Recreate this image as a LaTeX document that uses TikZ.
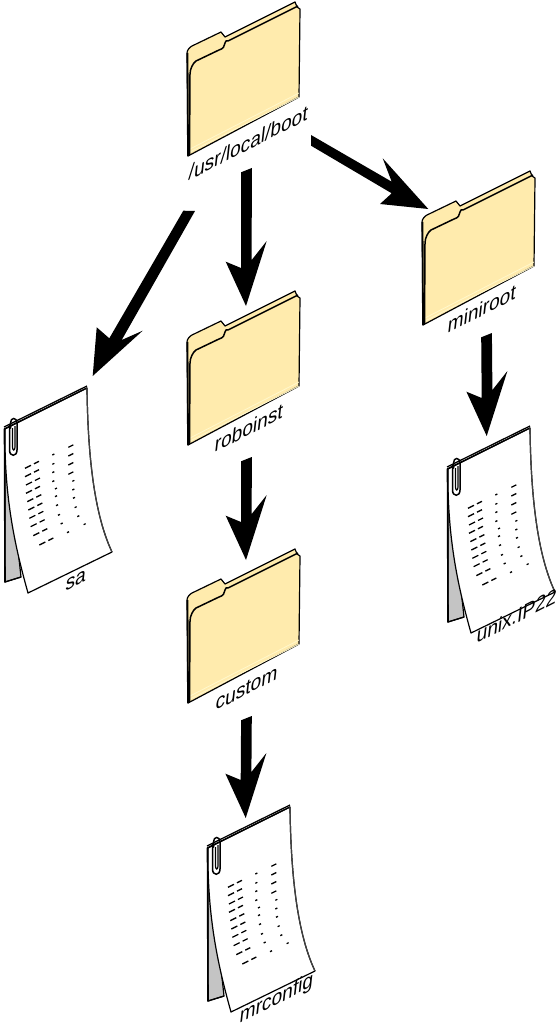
\documentclass[tikz,border=0pt]{standalone}
\usepackage{fontspec}
\setmainfont{Liberation Sans}
\usetikzlibrary{calc}
\definecolor{foldfill}{HTML}{FFEBAD}
\definecolor{foldpale}{HTML}{FFF8CC}
\definecolor{backgray}{HTML}{C4C4C4}
\tikzset{
  isolabel/.style={cm={0.955,0.49,0.12,1.08,(#1)},transform shape,anchor=base west,inner sep=0pt,
    font=\fontsize{20}{20}\selectfont},
  folder/.pic={
    \fill[foldfill,draw=black,line width=1.2pt,line join=round]
      (188,-156) -- (187,-53) .. controls (187,-50) and (190,-47) .. (192,-46) -- (221,-32)
      .. controls (222,-33) and (224,-36) .. (225,-37) -- (295,-2) -- (297,-7) -- (300,-9) -- (299,-97) -- cycle;
    \draw[foldpale,line width=0.8pt] (190,-149) -- (299,-93);
    \draw[foldpale,line width=0.8pt] (190,-152) -- (299,-97);
    \draw[black,line width=1.5pt,line join=round]
      (189.5,-155) -- (190,-74) .. controls (190,-69) and (193,-63) .. (196,-61) -- (219,-50)
      .. controls (223,-49) and (225,-46) .. (225,-43) .. controls (226,-41) and (226,-40) .. (228,-41) -- (298,-6);
    \draw[black,line width=1.8pt] (188,-156) -- (187.5,-53);
  },
  docsheet/.pic={
    \fill[backgray,draw=black,line width=1.2pt] (5,-429) -- (5,-582) -- (21,-577) -- (5,-430);
    \draw[black,line width=1.2pt] (5,-582) -- (21,-577);
    \fill[white,draw=black,line width=1.2pt,line join=round]
      (5,-429) .. controls (4,-500) and (16,-550) .. (28,-593) -- (112,-552)
      .. controls (97,-520) and (88,-470) .. (87,-388) -- cycle;
    \draw[black,line width=1.3pt] (4,-429) -- (87,-388);
    \draw[black,line width=1.3pt] (4,-427) -- (87,-386);
    \draw[black,line width=1.6pt] (4.5,-429) -- (5,-582);
    \draw[black!75,line width=1.2pt] (87,-388) .. controls (88,-470) and (97,-520) .. (112,-552);
    \draw[black,line width=1.5pt,line cap=round]
      (9.5,-425) -- (9.5,-450) .. controls (9.5,-457) and (17,-457) .. (17,-450) -- (17,-423)
      .. controls (17,-417) and (10.5,-417) .. (10.5,-423) -- (10.5,-428);
    \draw[black,line width=1.2pt] (12.5,-428) -- (12.5,-447) .. controls (12.5,-451) and (15,-451) .. (15,-447) -- (15,-426);
    \foreach \x/\y in {75/295,75/320,78/345,78/370,82/395,85/420,88/445,92/470,100/497,118/525}{
      \draw[black,line width=1.3pt] ({\x/3},{-\y/3-370}) -- ++(6,3);
      \draw[black,line width=1.3pt] ({\x/3+9},{-\y/3-370+4.5}) -- ++(5,2.5);
    }
    \foreach \x/\y in {157/255,157/283,157/308,157/335,165/357,165/380,168/407,174/436,182/462,201/488,
                       217/334,217/360,219/385,224/413,232/440,251/464}{
      \draw[black,line width=1.3pt] ({\x/3},{-\y/3-370}) -- ++(2,1);
    }
    \foreach \x/\y in {205/232,205/258,205/285,205/313}{
      \draw[black,line width=1.3pt] ({\x/3},{-\y/3-370}) -- ++(5,2.5);
    }
  }
}
% vertical arrow with its lopsided head: from a start point to a tip
\newcommand{\downarrowshape}[2]{%
  \fill[black] ($(#1)+(-5.3,-2.3)$) -- ($(#1)+(5.4,2)$) -- ($(#2)+(5.7,46)$) -- ($(#2)+(20.7,65)$)
    -- (#2) -- ($(#2)+(-20.3,44.3)$) -- ($(#2)+(-5,38)$) -- cycle;}
\begin{document}
\begin{tikzpicture}[x=1pt,y=1pt]
\useasboundingbox (0,0) rectangle (557,-1027);
\fill[white] (0,0) rectangle (557,-1027);
% folders
\pic (fboot) at (0,0) {folder};
\pic (frobo) at (0,-289) {folder};
\pic (fcust) at (0,-547) {folder};
\pic (fmini) at (235,-169) {folder};
% documents
\pic (dsa) at (0,0) {docsheet};
\pic (dmr) at (203,-419) {docsheet};
\pic (dunix) at (443,-40) {docsheet};
% labels
\node[isolabel={188,-181}] (lboot) at (0,0) {/usr/local/boot};
\node[isolabel={214,-453}] (lrobo) at (0,0) {roboinst};
\node[isolabel={215,-711}] (lcust) at (0,0) {custom};
\node[isolabel={447,-334}] (lmini) at (0,0) {miniroot};
\node[isolabel={65,-591.5}] (lsa) at (0,0) {sa};
\node[isolabel={239,-1024}] (lmr) at (0,0) {mrconfig};
\node[isolabel={476,-644}] (lunix) at (0,0) {unix.IP22};
% arrow ends
\coordinate (bootS) at (246.4,-170);
\coordinate (roboN) at (246,-306);
\coordinate (roboS) at (246.4,-459);
\coordinate (custN) at (246,-560);
\coordinate (custS) at (246.4,-718);
\coordinate (mrN) at (245.7,-818);
\coordinate (miniS) at (486.5,-335);
\coordinate (unixN) at (486.7,-436);
\coordinate (bootW) at (189,-211);
\coordinate (saN) at (92.7,-376);
\coordinate (bootE) at (311,-140);
\coordinate (miniN) at (428.3,-209);
\downarrowshape{bootS}{roboN}
\downarrowshape{roboS}{custN}
\downarrowshape{custS}{mrN}
\downarrowshape{miniS}{unixN}
\fill[black] ($(bootW)+(-5.7,0.3)$) -- ($(bootW)+(6,0)$) -- ($(saN)+(29,36)$) -- ($(saN)+(50,45.3)$)
  -- (saN) -- ($(saN)+(4,48.7)$) -- ($(saN)+(16.6,37.7)$) -- cycle;
\fill[black] ($(bootE)+(0,5)$) -- ($(bootE)+(0,-5.7)$) -- ($(miniN)+(-36.6,15.7)$) -- ($(miniN)+(-48.3,5)$)
  -- (miniN) -- ($(miniN)+(-45.6,50.7)$) -- ($(miniN)+(-36.6,27.3)$) -- cycle;
\end{tikzpicture}
\end{document}
